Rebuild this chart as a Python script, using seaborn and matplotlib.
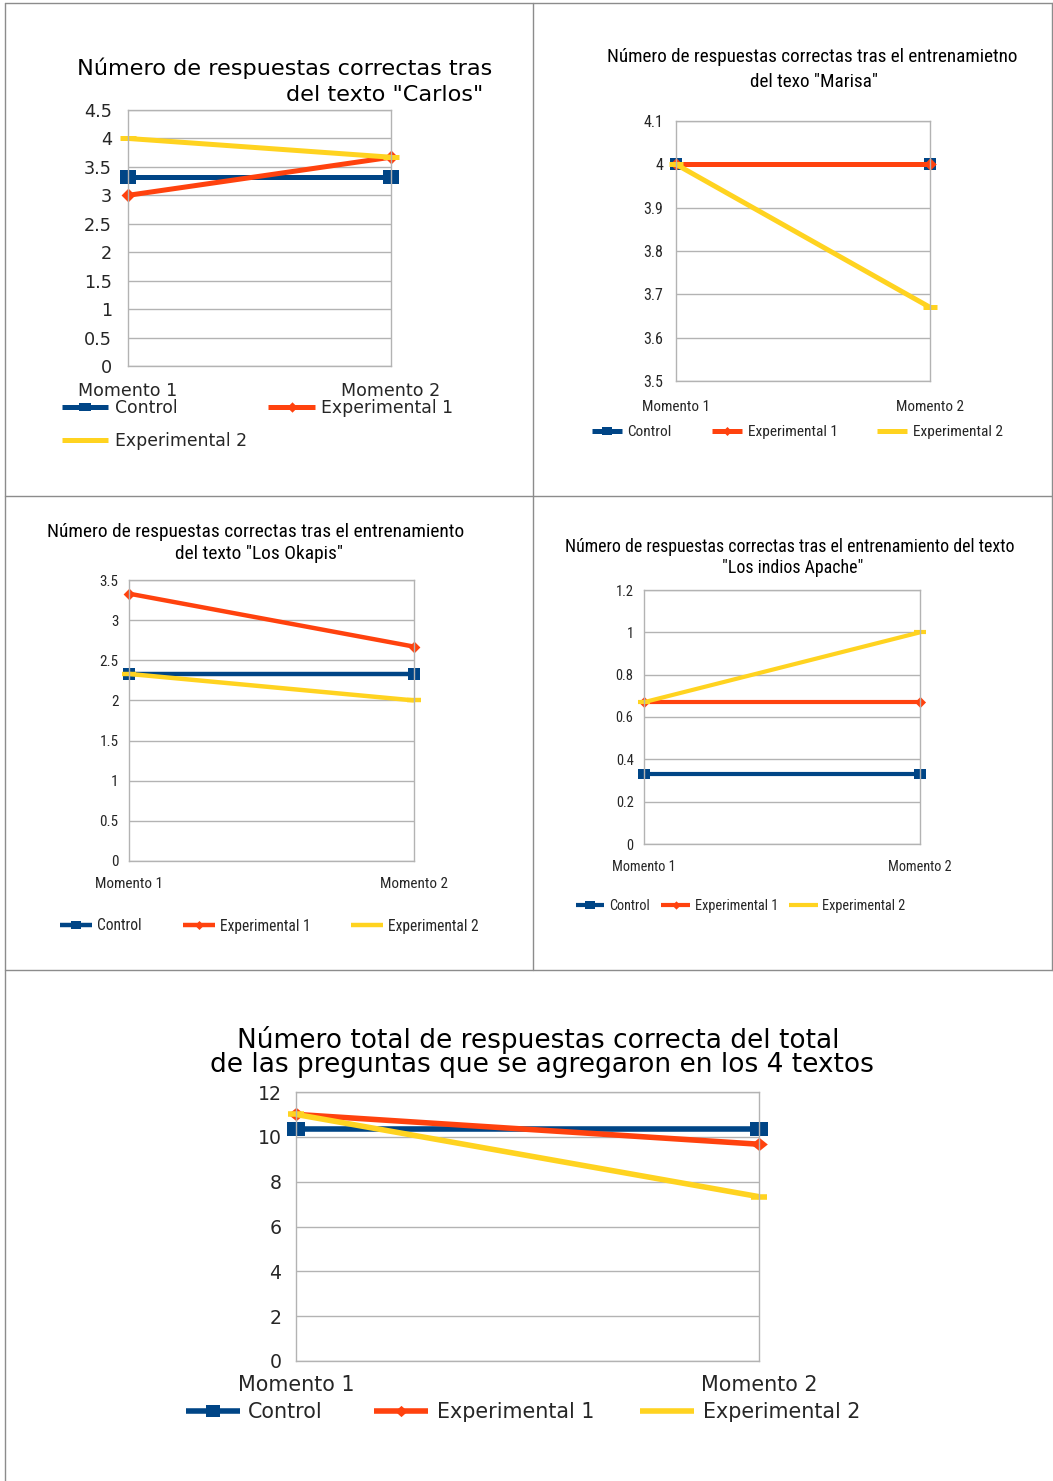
import numpy as np
import pandas as pd
import matplotlib
matplotlib.use("Agg")
import matplotlib.pyplot as plt
import seaborn as sns
from matplotlib.lines import Line2D
from matplotlib.path import Path
from matplotlib.ticker import FixedLocator, FuncFormatter
from matplotlib import font_manager
from matplotlib.font_manager import FontProperties
from matplotlib.textpath import TextToPath

# ---- data -------------------------------------------------------------
momentos = ["Momento 1", "Momento 2"]
grupos = ["Control", "Experimental 1", "Experimental 2"]

carlos_control = [3.33, 3.33]
carlos_exp1 = [3.0, 3.67]
carlos_exp2 = [4.0, 3.67]

marisa_control = [4.0, 4.0]
marisa_exp1 = [4.0, 4.0]
marisa_exp2 = [4.0, 3.67]

okapis_control = [2.33, 2.33]
okapis_exp1 = [3.33, 2.67]
okapis_exp2 = [2.33, 2.0]

apache_control = [0.33, 0.33]
apache_exp1 = [0.67, 0.67]
apache_exp2 = [0.67, 1.0]

total_control = [10.33, 10.33]
total_exp1 = [11.0, 9.67]
total_exp2 = [11.0, 7.33]

titulos = [
    ("Número de respuestas correctas tras", "del texto \"Carlos\""),
    ("Número de respuestas correctas tras el entrenamietno", "del texo \"Marisa\""),
    ("Número de respuestas correctas tras el entrenamiento", "del texto \"Los Okapis\""),
    ("Número de respuestas correctas tras el entrenamiento del texto", "\"Los indios Apache\""),
    ("Número total de respuestas correcta del total", "de las preguntas que se agregaron en los 4 textos"),
]

colores = {"Control": "#004586", "Experimental 1": "#ff420e", "Experimental 2": "#ffd320"}


def tabla(control, exp1, exp2):
    filas = []
    for g, vals in zip(grupos, [control, exp1, exp2]):
        for m, v in zip(momentos, vals):
            filas.append({"momento": m, "grupo": g, "valor": v})
    return pd.DataFrame(filas)


datos = [
    tabla(carlos_control, carlos_exp1, carlos_exp2),
    tabla(marisa_control, marisa_exp1, marisa_exp2),
    tabla(okapis_control, okapis_exp1, okapis_exp2),
    tabla(apache_control, apache_exp1, apache_exp2),
    tabla(total_control, total_exp1, total_exp2),
]

# ---- style -------------------------------------------------------------
sns.set_style("white")
WIDE = ["DejaVu Sans"]


def pick_narrow():
    fonts = font_manager.fontManager.ttflist
    names = {f.name for f in fonts}
    for cand in ["Liberation Sans Narrow", "Roboto Condensed", "Open Sans Condensed",
                 "Noto Sans Condensed", "DejaVu Sans Condensed"]:
        if cand in names:
            return [cand, "DejaVu Sans"], "normal"
    for fam in ["Roboto", "Noto Sans", "Open Sans", "DejaVu Sans"]:
        for f in fonts:
            if f.name == fam and str(f.stretch) in ("condensed", "semi-condensed"):
                return [fam, "DejaVu Sans"], "condensed"
    return ["Liberation Sans", "DejaVu Sans"], "normal"


NARROW, NSTRETCH = pick_narrow()
plt.rcParams["font.family"] = WIDE

_t2p = TextToPath()


def fit(s, family, target_px, stretch="normal"):
    """Font size (pt) that makes `s` span target_px pixels at 100 dpi."""
    fp = FontProperties(family=family, size=100, stretch=stretch)
    w, _, _ = _t2p.get_text_width_height_descent(s, fp, ismath=False)
    return 100 * target_px * 0.72 / w


W, H = 1053, 1481
fig = plt.figure(figsize=(W / 100, H / 100), dpi=100)
GRID = "#b3b3b3"


def rect_marker(aspect):
    return Path([(-1, -aspect), (1, -aspect), (1, aspect), (-1, aspect), (-1, -aspect)],
                [Path.MOVETO, Path.LINETO, Path.LINETO, Path.LINETO, Path.CLOSEPOLY])


def diamond_marker(aspect):
    return Path([(0, -aspect), (1, 0), (0, aspect), (-1, 0), (0, -aspect)],
                [Path.MOVETO, Path.LINETO, Path.LINETO, Path.LINETO, Path.CLOSEPOLY])


def px_axes(left, top, right, bottom):
    return fig.add_axes([left / W, 1 - bottom / H, (right - left) / W, (bottom - top) / H])


def fig_text(x, y, s, size, family, stretch="normal"):
    fig.text(x / W, 1 - y / H, s, ha="center", va="center", fontsize=size, family=family,
             stretch=stretch, color="black")


def legend_entry(x0, x1, xt, y, grupo, size, family, stretch, lw, marker, ms):
    fs_px = size * 100 / 72
    h = Line2D([], [], color=colores[grupo], lw=lw, marker=marker, ms=ms, mew=0,
               solid_capstyle="butt")
    fig.legend([h], [grupo], loc="center left", bbox_to_anchor=(x0 / W, 1 - y / H),
               frameon=False, borderpad=0, borderaxespad=0, handlelength=(x1 - x0) / fs_px,
               handletextpad=(xt - x1) / fs_px,
               prop={"family": family, "size": size, "stretch": stretch})


def draw_chart(ax, df, yticks, ytick_fs, xtick_fs, family, stretch, lw, sq, dm, bar, ypad, xpad):
    marks = {"Control": sq, "Experimental 1": dm, "Experimental 2": bar}
    for g in grupos:
        sub = df[df["grupo"] == g]
        mk, ms = marks[g]
        kw = dict(marker=mk, markersize=ms, color=colores[g], linewidth=lw, errorbar=None,
                  legend=False, ax=ax)
        if mk == "_":
            kw.update(markeredgewidth=lw, markeredgecolor=colores[g])
        else:
            kw.update(markeredgewidth=0, markeredgecolor=colores[g])
        sns.lineplot(data=sub, x="momento", y="valor", **kw)
    for ln in ax.lines:
        ln.set_clip_on(False)
        ln.set_solid_capstyle("butt")
    ax.set_xlim(0, 1)
    ax.set_ylim(yticks[0], yticks[-1])
    ax.yaxis.set_major_locator(FixedLocator(yticks))
    ax.yaxis.set_major_formatter(FuncFormatter(lambda v, p: f"{round(v, 2):g}"))
    ax.yaxis.grid(True, color=GRID, lw=1)
    ax.xaxis.grid(False)
    ax.set_axisbelow(True)
    for s in ax.spines.values():
        s.set_color(GRID)
        s.set_linewidth(1)
    ax.tick_params(axis="y", length=5, width=1, color=GRID, pad=ypad, labelsize=ytick_fs)
    ax.tick_params(axis="x", length=6, width=1, color=GRID, pad=xpad, labelsize=xtick_fs)
    for lab in ax.get_xticklabels() + ax.get_yticklabels():
        lab.set_family(family)
        lab.set_stretch(stretch)
    ax.set_xlabel("")
    ax.set_ylabel("")


# ---- chart 1: Carlos ---------------------------------------------------
f_t = fit(titulos[0][0], WIDE, 415)
f_l = fit("Experimental 1", WIDE, 132)
f_x = fit("Momento 1", WIDE, 99)
f_y = fit("4.5", WIDE, 28)
ax1 = px_axes(128, 110, 391, 366)
draw_chart(ax1, datos[0], np.arange(0, 4.51, 0.5), f_y, f_x, WIDE, "normal", 3.6,
           (rect_marker(0.87), 11), (diamond_marker(1.0), 10), ("_", 11), 6.5, 5.5)
fig_text(285, 68, titulos[0][0], f_t, WIDE)
fig_text(385, 95, titulos[0][1], f_t, WIDE)
legend_entry(62, 108, 115, 408, "Control", f_l, WIDE, "normal", 3.6, rect_marker(0.8), 8)
legend_entry(268, 315, 321, 408, "Experimental 1", f_l, WIDE, "normal", 3.6, diamond_marker(1.0), 7.5)
legend_entry(62, 108, 115, 441, "Experimental 2", f_l, WIDE, "normal", 3.6, None, 0)

# ---- chart 2: Marisa ---------------------------------------------------
f_t = fit(titulos[1][0], NARROW, 413, NSTRETCH)
f_l = fit("Experimental 1", NARROW, 90, NSTRETCH)
f_x = fit("Momento 1", NARROW, 68, NSTRETCH)
f_y = fit("3.9", NARROW, 20, NSTRETCH)
ax2 = px_axes(676, 121, 930, 381)
draw_chart(ax2, datos[1], np.round(np.arange(3.5, 4.11, 0.1), 1), f_y, f_x, NARROW, NSTRETCH, 3.6,
           (rect_marker(0.9), 9), (diamond_marker(1.0), 9), ("_", 10), 4, 7.5)
fig_text(812, 57, titulos[1][0], f_t, NARROW, NSTRETCH)
fig_text(814, 82, titulos[1][1], f_t, NARROW, NSTRETCH)
legend_entry(592, 622, 627, 432, "Control", f_l, NARROW, NSTRETCH, 3.6, rect_marker(0.8), 7)
legend_entry(712, 742, 748, 432, "Experimental 1", f_l, NARROW, NSTRETCH, 3.6, diamond_marker(1.0), 6.5)
legend_entry(877, 907, 913, 432, "Experimental 2", f_l, NARROW, NSTRETCH, 3.6, None, 0)

# ---- chart 3: Los Okapis -----------------------------------------------
f_t = fit(titulos[2][0], NARROW, 417, NSTRETCH)
f_l = fit("Experimental 1", NARROW, 91, NSTRETCH)
f_x = fit("Momento 1", NARROW, 68, NSTRETCH)
f_y = fit("3.5", NARROW, 19, NSTRETCH)
ax3 = px_axes(129, 580, 414, 861)
draw_chart(ax3, datos[2], np.arange(0, 3.51, 0.5), f_y, f_x, NARROW, NSTRETCH, 3.2,
           (rect_marker(0.9), 9), (diamond_marker(1.0), 8.5), ("_", 10), 2.5, 5.5)
fig_text(256, 532, titulos[2][0], f_t, NARROW, NSTRETCH)
fig_text(259, 554, titulos[2][1], f_t, NARROW, NSTRETCH)
legend_entry(60, 92, 97, 926, "Control", f_l, NARROW, NSTRETCH, 3.2, rect_marker(0.8), 7)
legend_entry(183, 215, 220, 926, "Experimental 1", f_l, NARROW, NSTRETCH, 3.2, diamond_marker(1.0), 6.5)
legend_entry(351, 383, 388, 926, "Experimental 2", f_l, NARROW, NSTRETCH, 3.2, None, 0)

# ---- chart 4: Los indios Apache ----------------------------------------
f_t = fit(titulos[3][0], NARROW, 449, NSTRETCH)
f_l = fit("Experimental 1", NARROW, 84, NSTRETCH)
f_x = fit("Momento 1", NARROW, 64, NSTRETCH)
f_y = fit("0.8", NARROW, 18, NSTRETCH)
ax4 = px_axes(644, 590, 920, 844)
draw_chart(ax4, datos[3], np.round(np.arange(0, 1.21, 0.2), 1), f_y, f_x, NARROW, NSTRETCH, 3.0,
           (rect_marker(0.9), 8), (diamond_marker(1.0), 8), ("_", 9), 2.5, 5.5)
fig_text(790, 547, titulos[3][0], f_t, NARROW, NSTRETCH)
fig_text(793, 568, titulos[3][1], f_t, NARROW, NSTRETCH)
legend_entry(576, 604, 609, 906, "Control", f_l, NARROW, NSTRETCH, 3.0, rect_marker(0.8), 6.5)
legend_entry(661, 690, 695, 906, "Experimental 1", f_l, NARROW, NSTRETCH, 3.0, diamond_marker(1.0), 6)
legend_entry(789, 818, 822, 906, "Experimental 2", f_l, NARROW, NSTRETCH, 3.0, None, 0)

# ---- chart 5: totales --------------------------------------------------
f_t = fit(titulos[4][1], WIDE, 662)
f_l = fit("Experimental 1", WIDE, 157)
f_x = fit("Momento 1", WIDE, 117)
f_y = fit("12", WIDE, 24)
ax5 = px_axes(296, 1092, 759, 1361)
draw_chart(ax5, datos[4], np.arange(0, 12.1, 2), f_y, f_x, WIDE, "normal", 4.0,
           (rect_marker(0.75), 13), (diamond_marker(0.8), 12), ("_", 12), 5.5, 4.0)
fig_text(538, 1040, titulos[4][0], f_t, WIDE)
fig_text(542, 1065, titulos[4][1], f_t, WIDE)
legend_entry(186, 240, 248, 1412, "Control", f_l, WIDE, "normal", 4.0, rect_marker(0.8), 10)
legend_entry(374, 428, 437, 1412, "Experimental 1", f_l, WIDE, "normal", 4.0, diamond_marker(0.9), 9)
legend_entry(640, 694, 703, 1412, "Experimental 2", f_l, WIDE, "normal", 4.0, None, 0)

# ---- panel frames ------------------------------------------------------
FRAME = "#8c8c8c"
for (xa, ya, xb, yb) in [(5, 3, 1053, 3), (5, 3, 5, 1481), (533, 3, 533, 970),
                         (1052, 3, 1052, 970), (5, 496, 1053, 496), (5, 970, 1053, 970)]:
    fig.add_artist(Line2D([xa / W, xb / W], [1 - ya / H, 1 - yb / H], transform=fig.transFigure,
                          color=FRAME, lw=1))

fig.savefig("out.png", dpi=100, facecolor="white")
